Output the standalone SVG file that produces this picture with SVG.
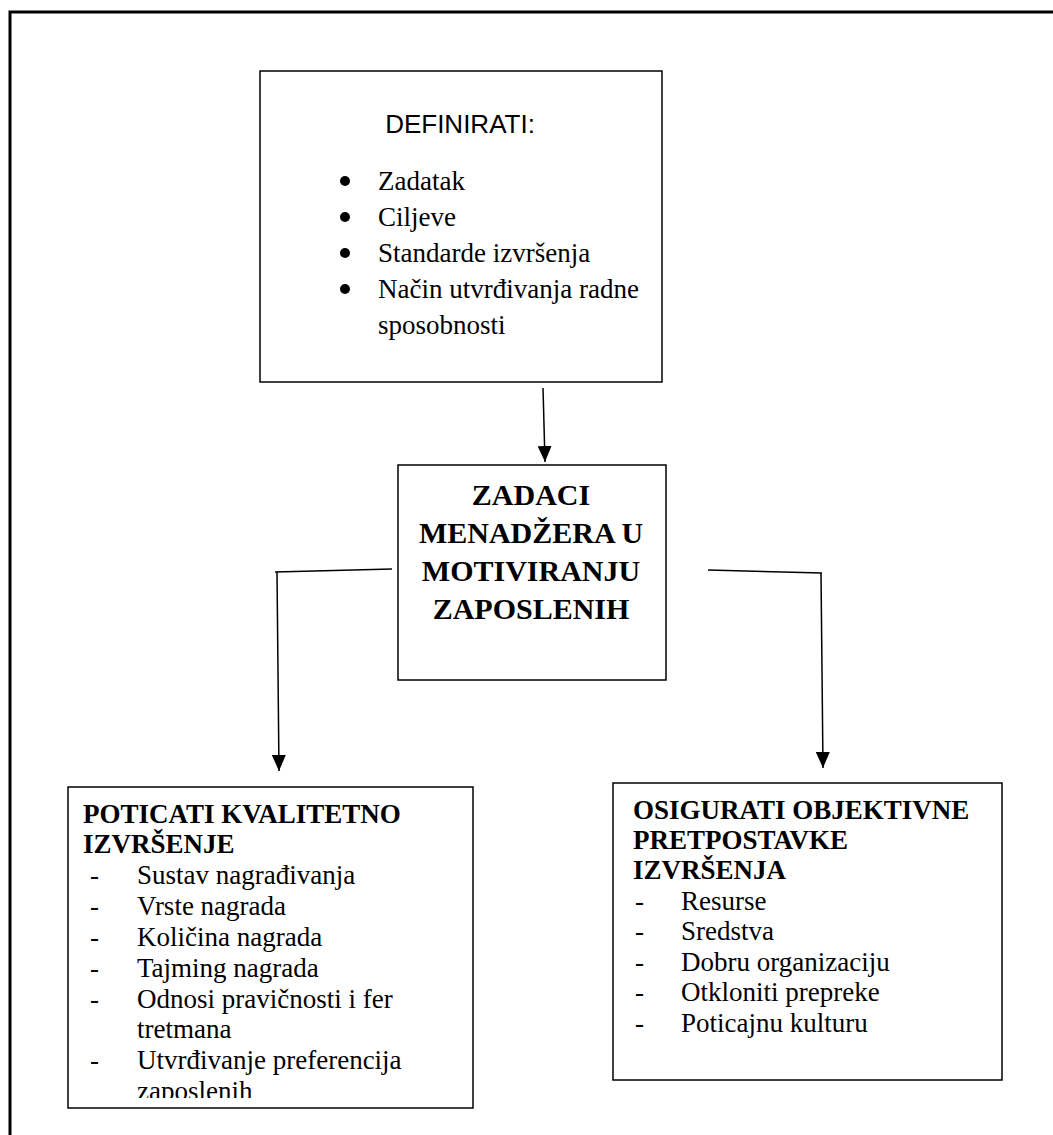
<svg xmlns="http://www.w3.org/2000/svg" width="1053" height="1135" viewBox="0 0 1053 1135">
<style>
.box{fill:#fff;stroke:#000;stroke-width:1.5}
.serif{font-family:"Liberation Serif","Times New Roman",serif;fill:#000}
.sans{font-family:"Liberation Sans",Arial,sans-serif;fill:#000}
.item{font-size:27px}
.bold{font-weight:bold}
.con{fill:none;stroke:#000;stroke-width:1.5}
</style>
<defs>
<marker id="ah" markerUnits="userSpaceOnUse" markerWidth="16" markerHeight="14" refX="16" refY="7" orient="auto" viewBox="0 0 16 14">
<path d="M0,0 L16,7 L0,14 Z" fill="#000"/>
</marker>
<clipPath id="clipL"><rect x="68" y="787" width="405" height="311"/></clipPath>
</defs>
<rect x="10" y="12" width="1100" height="1200" fill="none" stroke="#000" stroke-width="3"/>
<g id="node-definirati">
<rect class="box" x="260" y="71" width="402" height="311"/>
<text class="sans" x="460" y="133" font-size="26" text-anchor="middle">DEFINIRATI:</text>
<circle cx="345" cy="181" r="5"/>
<circle cx="345" cy="217" r="5"/>
<circle cx="345" cy="253" r="5"/>
<circle cx="345" cy="289" r="5"/>
<text class="serif item" x="378" y="190">Zadatak</text>
<text class="serif item" x="378" y="226">Ciljeve</text>
<text class="serif item" x="378" y="262">Standarde izvršenja</text>
<text class="serif item" x="378" y="298">Način utvrđivanja radne</text>
<text class="serif item" x="378" y="334">sposobnosti</text>
</g>
<g id="node-zadaci">
<rect class="box" x="398" y="465" width="268" height="215"/>
<text class="serif bold" font-size="30" text-anchor="middle" x="531" y="505">ZADACI</text>
<text class="serif bold" font-size="30" text-anchor="middle" x="531" y="543">MENADŽERA U</text>
<text class="serif bold" font-size="30" text-anchor="middle" x="531" y="581">MOTIVIRANJU</text>
<text class="serif bold" font-size="30" text-anchor="middle" x="531" y="619">ZAPOSLENIH</text>
</g>
<g id="node-poticati">
<rect class="box" x="68" y="787" width="405" height="321"/>
<g clip-path="url(#clipL)">
<text class="serif item bold" x="83" y="823">POTICATI KVALITETNO</text>
<text class="serif item bold" x="83" y="853">IZVRŠENJE</text>
<g class="serif item">
<text x="90" y="884">-</text><text x="137" y="884">Sustav nagrađivanja</text>
<text x="90" y="915">-</text><text x="137" y="915">Vrste nagrada</text>
<text x="90" y="946">-</text><text x="137" y="946">Količina nagrada</text>
<text x="90" y="977">-</text><text x="137" y="977">Tajming nagrada</text>
<text x="90" y="1008">-</text><text x="137" y="1008">Odnosi pravičnosti i fer</text>
<text x="137" y="1038">tretmana</text>
<text x="90" y="1069">-</text><text x="137" y="1069">Utvrđivanje preferencija</text>
<text x="137" y="1100">zaposlenih</text>
</g>
</g>
</g>
<g id="node-osigurati">
<rect class="box" x="613" y="783" width="389" height="297"/>
<text class="serif item bold" x="633" y="819">OSIGURATI OBJEKTIVNE</text>
<text class="serif item bold" x="633" y="849">PRETPOSTAVKE</text>
<text class="serif item bold" x="633" y="879">IZVRŠENJA</text>
<g class="serif item">
<text x="635" y="910">-</text><text x="681" y="910">Resurse</text>
<text x="635" y="940">-</text><text x="681" y="940">Sredstva</text>
<text x="635" y="971">-</text><text x="681" y="971">Dobru organizaciju</text>
<text x="635" y="1001">-</text><text x="681" y="1001">Otkloniti prepreke</text>
<text x="635" y="1032">-</text><text x="681" y="1032">Poticajnu kulturu</text>
</g>
</g>
<g id="connectors">
<path class="con" d="M543,388 L545,462" marker-end="url(#ah)"/>
<path class="con" d="M392,569 L275,572"/>
<path class="con" d="M277,572 L279,771" marker-end="url(#ah)"/>
<path class="con" d="M708,570 L822,573"/>
<path class="con" d="M821,573 L823,768" marker-end="url(#ah)"/>
</g>
</svg>
